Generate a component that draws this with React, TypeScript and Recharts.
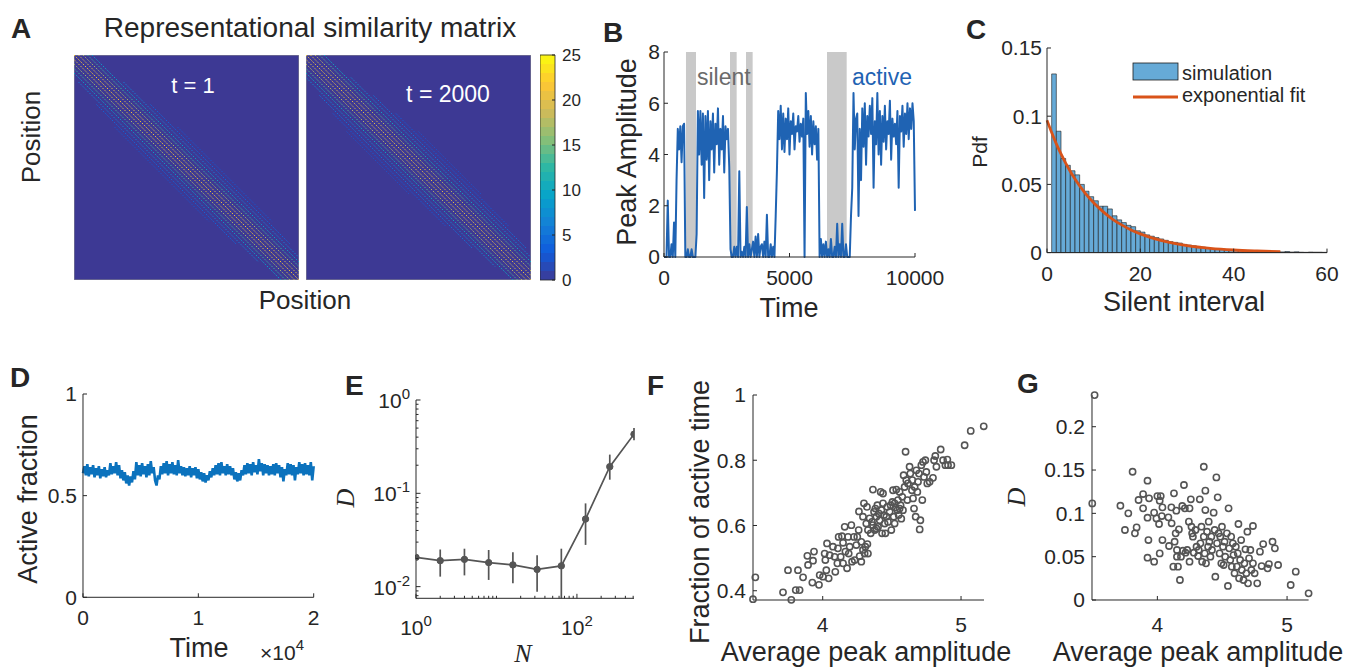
import React from 'react';
import {
  ComposedChart, Line, Scatter, XAxis, YAxis, ReferenceArea, ReferenceLine, ErrorBar, Legend,
} from 'recharts';

const FONT = '"Liberation Sans", Arial, Helvetica, sans-serif';
const SERIF = '"Liberation Serif", "DejaVu Serif", serif';
const INK = '#262626';
const TICK = { fill: INK, fontSize: 21, fontFamily: FONT };
const BLUE_B = '#1f63b3';
const BLUE_D = '#0b72bd';
const GRAYM = '#555555';
const BG = '#3d3994';

// ---------------- Panel A data (stripes of the similarity matrices) ----------------
const a1Offsets = [0, 2, -2, 4, -4, 6, -6, 8, -8, 10, -10, 12, -12, 14, -14];
const a1Start = [0, 0, 0, 0, 0, 0, 0, 0, 0, 12, 12, 22, 22, 32, 32];
const a1End = [100, 100, 100, 100, 100, 100, 100, 100, 100, 92, 92, 84, 84, 74, 74];
const a1Value = [22, 20, 20, 17, 17, 13, 13, 9, 9, 6, 6, 4, 4, 2.5, 2.5];

const a2Offsets = [0, 2, -2, 4, -4, 6, -6, 8, -8, 10, -10, 12, -12, 14, -14, 16, -16];
const a2Start = [0, 0, 0, 0, 0, 0, 0, 0, 0, 10, 10, 18, 18, 26, 26, 34, 34];
const a2End = [100, 100, 100, 100, 100, 100, 100, 100, 100, 94, 94, 86, 86, 76, 76, 62, 62];
const a2Value = [21, 20, 20, 18, 18, 14, 14, 10, 10, 7, 7, 5, 5, 3, 3, 2, 2];

const cbTicks = [0, 5, 10, 15, 20, 25];
const cbLevels = [0, 1, 2, 3, 4, 5, 6, 7, 8, 9, 10, 11, 12, 13, 14, 15, 16, 17, 18, 19, 20, 21, 22, 23, 24];

// ---------------- Panel B data ----------------
const B_STEP = 50;
const bAmp = [
  0, 0, 0, 2.2, 0, 0, 0.5, 0, 1.35, 0,
  3.0, 5.0, 4.2, 5.1, 3.7, 5.1, 5.2, 0, 0, 0.3,
  0, 0, 0.3, 0, 0, 0, 0.9, 5.7, 4.0, 5.7,
  3.6, 5.6, 2.3, 5.5, 3.8, 5.7, 3.0, 5.3, 4.2, 5.6,
  3.3, 5.2, 4.4, 5.8, 3.6, 5.0, 4.2, 5.5, 3.3, 5.1,
  4.6, 5.0, 3.5, 0.3, 0, 0, 0.4, 0, 0.4, 0,
  3.35, 0, 0.2, 0, 0.4, 0, 1.95, 0, 0.5, 0,
  0.3, 0.6, 0, 0.8, 0, 0.9, 0, 0.4, 0.5, 0,
  0.6, 0, 1.65, 0, 0, 0.5, 0, 0.4, 0, 1.6,
  3.4, 5.7, 4.6, 5.9, 4.2, 5.6, 4.1, 5.4, 4.6, 5.8,
  4.0, 5.3, 4.8, 5.6, 4.2, 5.1, 4.9, 5.5, 4.5, 5.2,
  4.7, 5.4, 0, 6.4, 4.8, 5.7, 4.3, 5.5, 4.0, 5.3,
  4.4, 5.1, 3.8, 5.0, 0, 0.7, 0, 0.5, 0, 0.6,
  0, 0.3, 0, 0.7, 0, 0, 0.4, 0, 1.3, 0,
  0.5, 0, 1.3, 0, 0, 0.5, 0, 0, 0, 1.6,
  2.7, 6.4, 4.2, 5.4, 5.6, 1.6, 5.0, 3.0, 5.8, 4.3,
  6.0, 3.6, 5.5, 4.7, 5.9, 4.8, 6.2, 2.7, 5.3, 4.4,
  6.4, 4.0, 5.7, 3.6, 5.5, 4.5, 5.9, 4.2, 5.3, 4.8,
  6.1, 3.8, 5.4, 4.7, 5.2, 4.4, 5.7, 2.7, 5.5, 4.9,
  5.9, 4.3, 5.6, 4.8, 6.0, 4.6, 5.8, 5.0, 6.0, 5.3, 1.8,
];
const bSilentStart = [876, 2630, 3267, 6494];
const bSilentEnd = [1275, 2895, 3532, 7278];
const bXTicks = [0, 5000, 10000];
const bYTicks = [0, 2, 4, 6, 8];

// ---------------- Panel C data ----------------
const cBinLeft = [
  1, 2, 3, 4, 5, 6, 7, 8, 9, 10, 11, 12, 13, 14, 15, 16, 17, 18, 19, 20,
  21, 22, 23, 24, 25, 26, 27, 28, 29, 30, 31, 32, 33, 34, 35, 36, 37, 38, 39, 40,
  41, 42, 43, 44, 45, 46, 47, 48, 49, 50, 51, 52, 53, 54, 55, 56, 57, 58, 59,
];
const cPdf = [
  0.131, 0.089, 0.069, 0.064, 0.060, 0.057, 0.050, 0.045, 0.041, 0.038,
  0.034, 0.034, 0.032, 0.027, 0.024, 0.022, 0.020, 0.019, 0.016, 0.015,
  0.013, 0.012, 0.011, 0.010, 0.009, 0.008, 0.0075, 0.007, 0.006, 0.0055,
  0.005, 0.0045, 0.004, 0.0035, 0.003, 0.003, 0.0025, 0.0022, 0.002, 0.0018,
  0.0016, 0.0014, 0.0012, 0.0011, 0.001, 0.0009, 0.0008, 0.0007, 0.0006, 0.0005,
  0.0008, 0.0004, 0.0006, 0.0003, 0.0002, 0.0004, 0.0003, 0.0003, 0.0002,
];
const cFitX = [0, 1, 2, 3, 4, 5, 6, 8, 10, 12, 14, 16, 18, 20, 23, 26, 30, 35, 40, 45, 50];
const cFitY = [0.097, 0.088, 0.0797, 0.0723, 0.0656, 0.0595, 0.0539, 0.0443, 0.0365, 0.03, 0.0246,
  0.0203, 0.0166, 0.0137, 0.0102, 0.0076, 0.0051, 0.0031, 0.0019, 0.0012, 0.0007];
const cXTicks = [0, 20, 40, 60];
const cYTicks = [0, 0.05, 0.1, 0.15];

// ---------------- Panel D data ----------------
const D_STEP = 125;
const dFrac = [
  0.61, 0.645, 0.6, 0.655, 0.595, 0.64, 0.605, 0.65, 0.59, 0.635,
  0.6, 0.645, 0.585, 0.63, 0.595, 0.64, 0.59, 0.625, 0.6, 0.66,
  0.605, 0.645, 0.61, 0.665, 0.6, 0.65, 0.585, 0.625, 0.575, 0.615,
  0.56, 0.6, 0.55, 0.595, 0.565, 0.62, 0.58, 0.665, 0.6, 0.65,
  0.595, 0.66, 0.605, 0.645, 0.59, 0.655, 0.6, 0.67, 0.61, 0.64,
  0.575, 0.55, 0.6, 0.58, 0.645, 0.605, 0.66, 0.61, 0.67, 0.6,
  0.655, 0.61, 0.665, 0.605, 0.65, 0.6, 0.675, 0.61, 0.645, 0.6,
  0.64, 0.595, 0.635, 0.6, 0.645, 0.59, 0.635, 0.6, 0.64, 0.585,
  0.63, 0.58, 0.615, 0.57, 0.61, 0.565, 0.6, 0.575, 0.62, 0.59,
  0.635, 0.6, 0.65, 0.605, 0.66, 0.6, 0.665, 0.61, 0.645, 0.6,
  0.655, 0.605, 0.645, 0.6, 0.635, 0.58, 0.615, 0.57, 0.61, 0.575,
  0.625, 0.6, 0.65, 0.605, 0.66, 0.61, 0.655, 0.6, 0.665, 0.615,
  0.65, 0.605, 0.68, 0.62, 0.66, 0.6, 0.655, 0.61, 0.65, 0.6,
  0.645, 0.605, 0.655, 0.6, 0.66, 0.61, 0.65, 0.59, 0.64, 0.57,
  0.63, 0.6, 0.66, 0.605, 0.655, 0.6, 0.65, 0.575, 0.64, 0.605,
  0.665, 0.61, 0.655, 0.6, 0.66, 0.605, 0.65, 0.6, 0.665, 0.575, 0.645,
];
const dXTicks = [0, 10000, 20000];
const dYTicks = [0, 0.5, 1];

// ---------------- Panel E data ----------------
const eN = [1, 2, 4, 8, 16, 32, 64, 128, 256, 512];
const eD = [0.0206, 0.019, 0.0196, 0.0181, 0.0171, 0.0153, 0.0167, 0.053, 0.193, 0.43];
const eLo = [0.0195, 0.0128, 0.0132, 0.0118, 0.0109, 0.0088, 0.0075, 0.028, 0.14, 0.37];
const eHi = [0.022, 0.025, 0.0255, 0.0247, 0.0233, 0.0217, 0.0255, 0.078, 0.26, 0.5];
const eXTicks = [1, 2, 3, 4, 5, 6, 7, 8, 9, 10, 20, 30, 40, 50, 60, 70, 80, 90, 100, 200, 300, 400, 500];
const eYTicks = [0.008, 0.009, 0.01, 0.02, 0.03, 0.04, 0.05, 0.06, 0.07, 0.08, 0.09, 0.1,
  0.2, 0.3, 0.4, 0.5, 0.6, 0.7, 0.8, 0.9, 1];
const eXMajor = [1, 100];
const eXExp = ['0', '2'];
const eYMajor = [0.01, 0.1, 1];
const eYExp = ['-2', '-1', '0'];

// ---------------- Panel F data ----------------
const fX = [3.496, 3.513, 3.713, 3.773, 3.805, 3.833, 3.749, 3.821, 3.858, 3.889,
  3.894, 3.930, 3.937, 3.925, 3.973, 3.978, 4.002, 4.026, 4.019, 4.031,
  4.014, 4.043, 4.074, 4.091, 4.106, 4.115, 4.130, 4.147, 4.159, 4.164,
  4.176, 4.183, 4.195, 4.207, 4.212, 4.226, 4.231, 4.243, 4.260, 4.267,
  4.279, 4.291, 4.308, 4.323, 4.327, 4.262, 4.298, 4.315, 4.327, 4.347,
  4.356, 4.363, 4.371, 4.376, 4.388, 4.395, 4.400, 4.412, 4.419, 4.424,
  4.429, 4.436, 4.443, 4.448, 4.453, 4.467, 4.472, 4.484, 4.496, 4.504,
  4.508, 4.513, 4.520, 4.527, 4.532, 4.540, 4.544, 4.549, 4.556, 4.563,
  4.568, 4.575, 4.580, 4.585, 4.592, 4.599, 4.604, 4.612, 4.616, 4.628,
  4.633, 4.645, 4.648, 4.653, 4.660, 4.665, 4.672, 4.677, 4.684, 4.689,
  4.696, 4.701, 4.706, 4.713, 4.720, 4.725, 4.732, 4.742, 4.749, 4.756,
  4.773, 4.797, 4.805, 4.814, 4.822, 4.853, 4.870, 4.887, 4.901, 4.906,
  4.930, 5.026, 5.070, 5.164, 4.381, 4.405, 4.339, 4.363, 4.388, 4.460,
  4.491, 4.520, 4.556, 4.436, 4.291, 4.320, 4.139, 4.050, 4.086, 4.110,
  4.147, 4.188, 4.250, 4.279, 4.303];
const fY = [0.374, 0.441, 0.395, 0.372, 0.402, 0.402, 0.463, 0.463, 0.441, 0.507,
  0.479, 0.492, 0.520, 0.425, 0.418, 0.448, 0.443, 0.463, 0.494, 0.545,
  0.514, 0.438, 0.535, 0.458, 0.484, 0.565, 0.504, 0.547, 0.596, 0.520,
  0.469, 0.565, 0.535, 0.601, 0.489, 0.565, 0.494, 0.540, 0.586, 0.506,
  0.550, 0.525, 0.535, 0.543, 0.514, 0.643, 0.668, 0.606, 0.586, 0.576,
  0.611, 0.710, 0.642, 0.586, 0.627, 0.662, 0.596, 0.616, 0.703, 0.647,
  0.576, 0.698, 0.632, 0.606, 0.576, 0.657, 0.611, 0.642, 0.586, 0.672,
  0.708, 0.627, 0.606, 0.655, 0.710, 0.647, 0.678, 0.632, 0.703, 0.662,
  0.621, 0.688, 0.647, 0.754, 0.718, 0.826, 0.739, 0.678, 0.729, 0.780,
  0.759, 0.708, 0.739, 0.683, 0.652, 0.718, 0.627, 0.769, 0.703, 0.734,
  0.759, 0.588, 0.616, 0.785, 0.678, 0.795, 0.749, 0.800, 0.764, 0.729,
  0.734, 0.746, 0.800, 0.813, 0.780, 0.833, 0.800, 0.785, 0.802, 0.785,
  0.785, 0.846, 0.890, 0.904, 0.652, 0.637, 0.622, 0.601, 0.591, 0.627,
  0.662, 0.668, 0.652, 0.668, 0.627, 0.657, 0.567, 0.509, 0.504, 0.530,
  0.484, 0.514, 0.565, 0.489, 0.514];
const fXTicks = [4, 5];
const fYTicks = [0.4, 0.6, 0.8, 1];

// ---------------- Panel G data ----------------
const gX = [3.516, 3.498, 3.715, 3.776, 3.750, 3.827, 3.840, 3.809, 3.855, 3.890,
  3.890, 3.924, 3.924, 3.936, 3.931, 3.924, 3.975, 3.975, 3.993, 4.000,
  4.018, 4.013, 4.026, 4.034, 4.039, 4.018, 4.039, 4.085, 4.090, 4.108,
  4.110, 4.123, 4.128, 4.133, 4.141, 4.146, 4.151, 4.151, 4.159, 4.166,
  4.174, 4.182, 4.192, 4.197, 4.205, 4.212, 4.217, 4.230, 4.243, 4.248,
  4.248, 4.258, 4.263, 4.268, 4.274, 4.281, 4.294, 4.302, 4.314, 4.319,
  4.327, 4.332, 4.340, 4.345, 4.358, 4.358, 4.365, 4.370, 4.370, 4.375,
  4.383, 4.391, 4.396, 4.401, 4.409, 4.416, 4.421, 4.434, 4.442, 4.447,
  4.455, 4.460, 4.465, 4.472, 4.480, 4.485, 4.493, 4.498, 4.506, 4.511,
  4.518, 4.523, 4.536, 4.544, 4.549, 4.554, 4.562, 4.569, 4.574, 4.582,
  4.587, 4.595, 4.605, 4.613, 4.620, 4.625, 4.630, 4.638, 4.646, 4.651,
  4.664, 4.671, 4.679, 4.686, 4.694, 4.699, 4.707, 4.717, 4.725, 4.737,
  4.737, 4.750, 4.770, 4.791, 4.804, 4.816, 4.850, 4.860, 4.888, 4.906,
  4.931, 5.028, 5.067, 5.166];
const gY = [0.2365, 0.1115, 0.1088, 0.1, 0.0808, 0.0769, 0.0838, 0.148, 0.1154, 0.1058,
  0.1223, 0.1377, 0.095, 0.1173, 0.0692, 0.0488, 0.0442, 0.1008, 0.0942, 0.12,
  0.1146, 0.0877, 0.12, 0.0969, 0.1069, 0.0538, 0.0692, 0.0954, 0.0623, 0.1069,
  0.0885, 0.0385, 0.1231, 0.0673, 0.0769, 0.1031, 0.05, 0.0577, 0.0385, 0.0815,
  0.0231, 0.05, 0.1085, 0.0569, 0.1327, 0.1058, 0.0546, 0.0577, 0.0904, 0.1058,
  0.0442, 0.1162, 0.0846, 0.0769, 0.0731, 0.0546, 0.0808, 0.0615, 0.0508, 0.0577,
  0.1162, 0.0654, 0.0846, 0.0442, 0.1538, 0.0731, 0.0538, 0.1262, 0.1038, 0.0423,
  0.0788, 0.0615, 0.0904, 0.0673, 0.05, 0.0731, 0.0577, 0.1008, 0.0808, 0.0269,
  0.1415, 0.0654, 0.1185, 0.0769, 0.0538, 0.0731, 0.0423, 0.0846, 0.0615, 0.0404,
  0.0673, 0.05, 0.0769, 0.0162, 0.1058, 0.0596, 0.0462, 0.0731, 0.0385, 0.0654,
  0.0519, 0.0308, 0.0615, 0.0385, 0.0538, 0.0877, 0.025, 0.0462, 0.0692, 0.0346,
  0.0231, 0.0423, 0.0585, 0.0308, 0.0788, 0.0192, 0.0481, 0.0577, 0.0346, 0.0854,
  0.0423, 0.0308, 0.0192, 0.0558, 0.0392, 0.0646, 0.0365, 0.0415, 0.0673, 0.0596,
  0.0404, 0.0173, 0.0327, 0.0077];
const gXTicks = [4, 5];
const gYTicks = [0, 0.05, 0.1, 0.15, 0.2];

// ---------------- helpers ----------------
const PARULA = ['#3d3994', '#0f5cdd', '#1481d6', '#06a4ca', '#2eb7a4', '#87bf77', '#d1bb59', '#fec832', '#f9fb0e'];
function hex2rgb(h: string) {
  return [parseInt(h.slice(1, 3), 16), parseInt(h.slice(3, 5), 16), parseInt(h.slice(5, 7), 16)];
}
function parula(t: number) {
  const tt = Math.max(0, Math.min(1, t));
  const n = PARULA.length - 1;
  const f = tt * n;
  const i = Math.min(n - 1, Math.floor(f));
  const u = f - i;
  const a = hex2rgb(PARULA[i]);
  const b = hex2rgb(PARULA[i + 1]);
  const c = a.map((v, k) => Math.round(v + (b[k] - v) * u));
  return `rgb(${c[0]},${c[1]},${c[2]})`;
}

type Rect = { x0: number; y0: number; x1: number; y1: number };
function box(r: Rect, yw: number, xh: number, top: number, right: number) {
  return {
    style: { position: 'absolute' as const, left: r.x0 - yw, top: r.y0 - top },
    width: yw + (r.x1 - r.x0) + right,
    height: top + (r.y1 - r.y0) + xh,
    margin: { top, right, bottom: 0, left: 0 },
  };
}
const TL = -4;
function bottomProps(m: number, xh: number) {
  return { tickSize: TL, tickMargin: m, stroke: INK, tick: TICK, interval: 0 as const, height: xh, axisLine: { stroke: INK, strokeWidth: 1 }, tickLine: { stroke: INK, strokeWidth: 1 } };
}
function leftProps(m: number, yw: number) {
  return { tickSize: TL, tickMargin: m, stroke: INK, tick: TICK, interval: 0 as const, width: yw, axisLine: { stroke: INK, strokeWidth: 1 }, tickLine: { stroke: INK, strokeWidth: 1 } };
}
function topAxis(domain: number[], ticks: number[]) {
  return (
    <XAxis key="topax" xAxisId="top" orientation="top" type="number" domain={domain} ticks={ticks}
      tick={false} tickSize={TL} height={0} stroke={INK} interval={0} allowDataOverflow />
  );
}
function rightAxis(domain: number[], ticks: number[]) {
  return (
    <YAxis key="rightax" yAxisId="right" orientation="right" type="number" domain={domain} ticks={ticks}
      tick={false} tickSize={TL} width={0} stroke={INK} interval={0} allowDataOverflow />
  );
}

// ---------------- Panel A ----------------
function Matrix({ left, offsets, starts, ends, values }: any) {
  const segs = offsets.map((d: number, k: number) => {
    const r0 = Math.max(starts[k], -d, 0);
    const r1 = Math.min(ends[k], 100 - d, 100);
    return { d, r0, r1, v: values[k] };
  });
  return (
    <div style={{ position: 'absolute', left, top: 55 }}>
      <ComposedChart width={225} height={225} margin={{ top: 0, right: 0, bottom: 0, left: 0 }}>
        <XAxis type="number" dataKey="x" domain={[0, 100]} hide allowDataOverflow />
        <YAxis type="number" dataKey="y" domain={[0, 100]} reversed hide allowDataOverflow />
        <ReferenceArea x1={0} x2={100} y1={0} y2={100} fill={BG} fillOpacity={1} stroke="#8f8f8f" strokeWidth={1} ifOverflow="visible" />
        {segs.map((s: any, k: number) => (
          <ReferenceLine key={k} segment={[{ x: s.r0 + s.d, y: s.r0 }, { x: s.r1 + s.d, y: s.r1 }]}
            stroke={parula(s.v / 25)} strokeWidth={0.95} strokeDasharray="1.6 1.5" ifOverflow="visible" />
        ))}
      </ComposedChart>
    </div>
  );
}

function ColorBar() {
  return (
    <div style={{ position: 'absolute', left: 540, top: 45 }}>
      <ComposedChart width={60} height={245} margin={{ top: 10, right: 0, bottom: 10, left: 0 }}>
        <XAxis type="number" dataKey="x" domain={[0, 1]} hide allowDataOverflow />
        <YAxis orientation="right" type="number" dataKey="y" domain={[0, 25]} ticks={cbTicks} width={45} tickSize={-3}
          tickMargin={10} stroke={INK} interval={0} axisLine={false} allowDataOverflow
          tick={{ fill: INK, fontSize: 17, fontFamily: FONT }} tickLine={{ stroke: INK }} />
        {cbLevels.map((l) => (
          <ReferenceArea key={l} x1={0} x2={1} y1={l} y2={l + 1.02} fill={parula((l + 0.5) / 25)} fillOpacity={1} stroke="none" ifOverflow="visible" />
        ))}
        <ReferenceArea x1={0} x2={1} y1={0} y2={25} fill="none" fillOpacity={0} stroke={INK} strokeWidth={0.8} ifOverflow="visible" />
      </ComposedChart>
    </div>
  );
}

// ---------------- Panel B ----------------
function PanelB() {
  const r = { x0: 664, y0: 51.7, x1: 915, y1: 256.7 };
  const b = box(r, 40, 45, 12, 36);
  const data = bAmp.map((v, i) => ({ t: i * B_STEP, v }));
  return (
    <div style={b.style}>
      <ComposedChart width={b.width} height={b.height} margin={b.margin} data={data}>
        <XAxis dataKey="t" type="number" domain={[0, 10000]} ticks={bXTicks} {...bottomProps(17, 45)} />
        <YAxis type="number" domain={[0, 8]} ticks={bYTicks} {...leftProps(8, 40)} />
        {topAxis([0, 10000], bXTicks)}
        {rightAxis([0, 8], bYTicks)}
        {bSilentStart.map((s, k) => (
          <ReferenceArea key={k} x1={s} x2={bSilentEnd[k]} y1={0} y2={8} fill="#c9c9c9" fillOpacity={1} stroke="none" />
        ))}
        <Line dataKey="v" stroke={BLUE_B} strokeWidth={2} dot={false} isAnimationActive={false} strokeLinejoin="round" />
      </ComposedChart>
    </div>
  );
}

// ---------------- Panel C ----------------
function PanelC() {
  const r = { x0: 1047, y0: 47.7, x1: 1327, y1: 252.3 };
  const b = box(r, 58, 45, 12, 22);
  const fit = cFitX.map((x, i) => ({ x, fit: cFitY[i] }));
  return (
    <div style={b.style}>
      <ComposedChart width={b.width} height={b.height} margin={b.margin} data={fit}>
        <XAxis dataKey="x" type="number" domain={[0, 60]} ticks={cXTicks} {...bottomProps(17, 45)} />
        <YAxis type="number" domain={[0, 0.15]} ticks={cYTicks} {...leftProps(9, 58)} />
        {topAxis([0, 60], cXTicks)}
        {rightAxis([0, 0.15], cYTicks)}
        {cBinLeft.map((x, i) => (
          <ReferenceArea key={i} x1={x} x2={x + 1} y1={0} y2={cPdf[i]} fill="#66aad7" fillOpacity={1}
            stroke="#1c1c1c" strokeWidth={0.6} ifOverflow="visible" />
        ))}
        <Line dataKey="fit" type="monotone" stroke="#d95319" strokeWidth={2.8} dot={false} isAnimationActive={false} />
        <Legend layout="vertical" verticalAlign="middle" align="center"
          wrapperStyle={{ position: 'absolute', left: 1128 - (r.x0 - 58), top: 58 - (r.y0 - 12), width: 210, height: 52, margin: 0 }}
          content={() => (
            <svg width={210} height={52} style={{ display: 'block' }}>
              <rect x={5} y={5} width={45} height={17} fill="#66aad7" stroke="#1c1c1c" strokeWidth={0.8} />
              <text x={54} y={22} fontSize={20} fontFamily={FONT} fill={INK}>simulation</text>
              <line x1={5} x2={50} y1={39} y2={39} stroke="#d95319" strokeWidth={2.8} />
              <text x={54} y={44} fontSize={20} fontFamily={FONT} fill={INK}>exponential fit</text>
            </svg>
          )} />
      </ComposedChart>
    </div>
  );
}

// ---------------- Panel D ----------------
function PanelD() {
  const r = { x0: 83.3, y0: 394, x1: 314, y1: 597.3 };
  const b = box(r, 45, 45, 12, 14);
  const data = dFrac.map((v, i) => ({ t: i * D_STEP, v }));
  return (
    <div style={b.style}>
      <ComposedChart width={b.width} height={b.height} margin={b.margin} data={data}>
        <XAxis dataKey="t" type="number" domain={[0, 20000]} ticks={dXTicks} tickFormatter={(v: number) => String(v / 10000)} {...bottomProps(17, 45)} />
        <YAxis type="number" domain={[0, 1]} ticks={dYTicks} {...leftProps(10, 45)} />
        {topAxis([0, 20000], dXTicks)}
        {rightAxis([0, 1], dYTicks)}
        <Line dataKey="v" stroke={BLUE_D} strokeWidth={2.6} dot={false} isAnimationActive={false} />
      </ComposedChart>
    </div>
  );
}

// ---------------- Panel E ----------------
function LogTick(props: any) {
  const { x, y, payload, side, majors, exps } = props;
  const v = payload.value;
  const mi = majors.findIndex((m: number) => Math.abs(m - v) / m < 1e-6);
  const major = mi >= 0;
  const len = major ? 4.5 : 2.5;
  if (side === 'bottom') {
    return (
      <g>
        <line x1={x} x2={x} y1={y} y2={y - len} stroke={INK} strokeWidth={1} />
        {major && (
          <text x={x} y={y + 37} textAnchor="middle" fontSize={21} fontFamily={FONT} fill={INK}>
            <tspan>10</tspan><tspan dy={-9} fontSize={15}>{exps[mi]}</tspan>
          </text>
        )}
      </g>
    );
  }
  if (side === 'left') {
    return (
      <g>
        <line x1={x} x2={x + len} y1={y} y2={y} stroke={INK} strokeWidth={1} />
        {major && (
          <text x={x - 6} y={y + 8} textAnchor="end" fontSize={21} fontFamily={FONT} fill={INK}>
            <tspan>10</tspan><tspan dy={-9} fontSize={15}>{exps[mi]}</tspan>
          </text>
        )}
      </g>
    );
  }
  if (side === 'top') {
    return <line x1={x} x2={x} y1={y} y2={y + len} stroke={INK} strokeWidth={1} />;
  }
  return <line x1={x} x2={x - len} y1={y} y2={y} stroke={INK} strokeWidth={1} />;
}

function PanelE() {
  const r = { x0: 416, y0: 400, x1: 634, y1: 598.3 };
  const b = box(r, 62, 50, 14, 12);
  const data = eN.map((n, i) => ({ n, d: eD[i], err: [eD[i] - eLo[i], eHi[i] - eD[i]] }));
  const xd = [1, 512];
  const yd = [0.0075, 1];
  return (
    <div style={b.style}>
      <ComposedChart width={b.width} height={b.height} margin={b.margin} data={data}>
        <XAxis dataKey="n" type="number" scale="log" domain={xd} ticks={eXTicks} interval={0} tickLine={false}
          tickSize={0} tickMargin={0} height={50} stroke={INK} allowDataOverflow
          tick={(p: any) => <LogTick {...p} side="bottom" majors={eXMajor} exps={eXExp} />} />
        <YAxis type="number" scale="log" domain={yd} ticks={eYTicks} interval={0} tickLine={false}
          tickSize={0} tickMargin={0} width={62} stroke={INK} allowDataOverflow
          tick={(p: any) => <LogTick {...p} side="left" majors={eYMajor} exps={eYExp} />} />
        <XAxis xAxisId="top" orientation="top" type="number" scale="log" domain={xd} ticks={eXTicks} interval={0}
          tickLine={false} tickSize={0} tickMargin={0} height={0} stroke={INK} allowDataOverflow
          tick={(p: any) => <LogTick {...p} side="top" majors={eXMajor} exps={eXExp} />} />
        <YAxis yAxisId="right" orientation="right" type="number" scale="log" domain={yd} ticks={eYTicks} interval={0}
          tickLine={false} tickSize={0} tickMargin={0} width={0} stroke={INK} allowDataOverflow
          tick={(p: any) => <LogTick {...p} side="right" majors={eYMajor} exps={eYExp} />} />
        <Line dataKey="d" stroke={GRAYM} strokeWidth={1.7} dot={{ r: 3.2, fill: GRAYM, stroke: GRAYM, strokeWidth: 1 }} isAnimationActive={false}>
          <ErrorBar dataKey="err" direction="y" width={0} stroke={GRAYM} strokeWidth={1.7} isAnimationActive={false} />
        </Line>
      </ComposedChart>
    </div>
  );
}

// ---------------- Panels F, G ----------------
const Ring = (p: any) => <circle cx={p.cx} cy={p.cy} r={3.1} fill="none" stroke={GRAYM} strokeWidth={1.6} />;

function ScatterPanel({ r, xs, ys, xd, yd, xt, yt }: any) {
  const b = box(r, 52, 45, 12, 12);
  const data = xs.map((x: number, i: number) => ({ x, y: ys[i] }));
  return (
    <div style={b.style}>
      <ComposedChart width={b.width} height={b.height} margin={b.margin}>
        <XAxis dataKey="x" type="number" domain={xd} ticks={xt} {...bottomProps(21, 45)} />
        <YAxis dataKey="y" type="number" domain={yd} ticks={yt} {...leftProps(11, 52)} />
        {topAxis(xd, xt)}
        {rightAxis(yd, yt)}
        <Scatter data={data} dataKey="y" shape={Ring} isAnimationActive={false} />
      </ComposedChart>
    </div>
  );
}

// ---------------- text overlay ----------------
function Tx({ x, y, s, children, anchor = 'start', bold = false, fill = INK, family = FONT, italic = false }: any) {
  return (
    <text x={x} y={y} fontSize={s} textAnchor={anchor} fontWeight={bold ? 700 : 400} fill={fill}
      fontFamily={family} fontStyle={italic ? 'italic' : 'normal'}>{children}</text>
  );
}
function VTx({ x, y, s, children, family = FONT, italic = false }: any) {
  return (
    <text transform={`translate(${x},${y}) rotate(-90)`} textAnchor="middle" dy="0.35em" fontSize={s}
      fill={INK} fontFamily={family} fontStyle={italic ? 'italic' : 'normal'}>{children}</text>
  );
}

function Overlay() {
  return (
    <svg width={1356} height={669} style={{ position: 'absolute', left: 0, top: 0, pointerEvents: 'none' }}>
      <Tx x={11} y={38} s={28} bold>A</Tx>
      <Tx x={603} y={42} s={28} bold>B</Tx>
      <Tx x={966} y={39} s={28} bold>C</Tx>
      <Tx x={10} y={387} s={28} bold>D</Tx>
      <Tx x={345} y={395} s={28} bold>E</Tx>
      <Tx x={647} y={395} s={28} bold>F</Tx>
      <Tx x={1017} y={393} s={28} bold>G</Tx>

      <Tx x={310} y={37} s={28} anchor="middle">Representational similarity matrix</Tx>
      <VTx x={31} y={137} s={26}>Position</VTx>
      <Tx x={305} y={309} s={26} anchor="middle">Position</Tx>
      <Tx x={193} y={93} s={22} anchor="middle" fill="#ffffff">t = 1</Tx>
      <Tx x={448} y={102} s={23} anchor="middle" fill="#ffffff">t = 2000</Tx>

      <VTx x={627} y={152} s={27}>Peak Amplitude</VTx>
      <Tx x={789} y={317} s={27} anchor="middle">Time</Tx>
      <Tx x={697} y={85} s={23} fill="#6b6b6b">silent</Tx>
      <Tx x={912} y={85} s={23} anchor="end" fill={BLUE_B}>active</Tx>

      <VTx x={980} y={152} s={21}>Pdf</VTx>
      <Tx x={1184} y={311} s={27} anchor="middle">Silent interval</Tx>

      <VTx x={28} y={499} s={27}>Active fraction</VTx>
      <Tx x={199} y={657} s={27} anchor="middle">Time</Tx>
      <text x={260} y={660} fontSize={21} fontFamily={FONT} fill={INK}>
        <tspan>×10</tspan><tspan dy={-10} fontSize={15}>4</tspan>
      </text>

      <VTx x={345} y={498} s={26} family={SERIF} italic>D</VTx>
      <Tx x={523} y={662} s={26} anchor="middle" family={SERIF} italic>N</Tx>

      <VTx x={700} y={512} s={27}>Fraction of active time</VTx>
      <Tx x={866} y={661} s={27} anchor="middle">Average peak amplitude</Tx>

      <VTx x={1016} y={497} s={26} family={SERIF} italic>D</VTx>
      <Tx x={1198} y={661} s={27} anchor="middle">Average peak amplitude</Tx>
    </svg>
  );
}

export default function App() {
  return (
    <div style={{ position: 'absolute', left: 0, top: 0, width: 1356, height: 669, background: '#ffffff', fontFamily: FONT, overflow: 'hidden' }}>
      <Matrix left={74} offsets={a1Offsets} starts={a1Start} ends={a1End} values={a1Value} />
      <Matrix left={306} offsets={a2Offsets} starts={a2Start} ends={a2End} values={a2Value} />
      <ColorBar />
      <PanelB />
      <PanelC />
      <PanelD />
      <PanelE />
      <ScatterPanel r={{ x0: 753, y0: 395, x1: 984, y1: 600 }} xs={fX} ys={fY} xd={[3.496, 5.166]} yd={[0.3716, 1]} xt={fXTicks} yt={fYTicks} />
      <ScatterPanel r={{ x0: 1091.7, y0: 395, x1: 1308.3, y1: 600 }} xs={gX} ys={gY} xd={[3.496, 5.166]} yd={[0, 0.2366]} xt={gXTicks} yt={gYTicks} />
      <Overlay />
    </div>
  );
}
